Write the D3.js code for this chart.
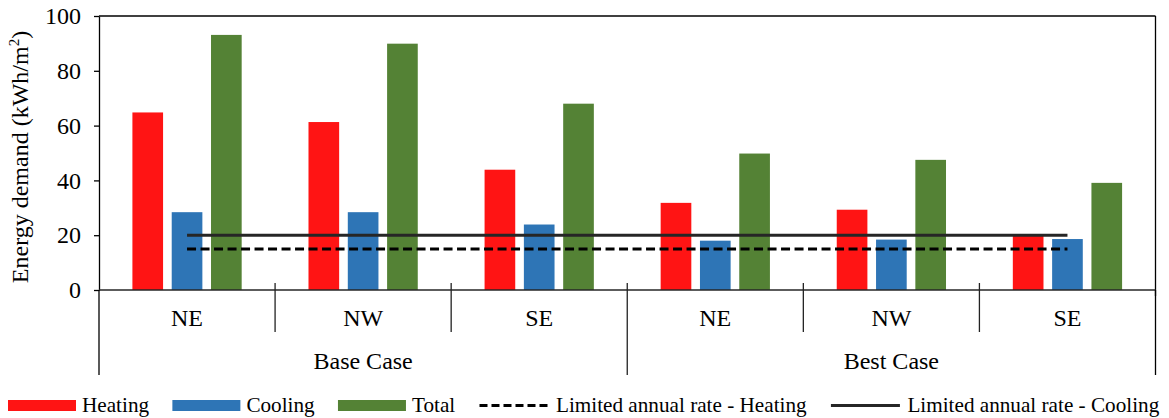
<!DOCTYPE html>
<html>
<head>
<meta charset="utf-8">
<script src="https://cdn.jsdelivr.net/npm/d3@7"></script>
<style>
  html, body { margin: 0; padding: 0; background: #fff; }
  svg { display: block; }
</style>
</head>
<body>
<svg id="chart" width="1169" height="418"></svg>
<script>
// ---- data ----
const regions = ["NE", "NW", "SE"];
const cases = ["Base Case", "Best Case"];
const seriesNames = ["Heating", "Cooling", "Total"];
const heating = [64.8, 61.3, 43.9, 31.8, 29.3, 20.1];
const cooling = [28.4, 28.4, 23.9, 18.0, 18.4, 18.6];
const total = [93.1, 89.9, 68.0, 49.8, 47.5, 39.1];
const limitHeating = [15, 15, 15, 15, 15, 15];
const limitCooling = [20, 20, 20, 20, 20, 20];
const yTicks = [0, 20, 40, 60, 80, 100];
const lineNames = ["Limited annual rate - Heating", "Limited annual rate - Cooling"];

const colors = { Heating: "#FF1414", Cooling: "#2E75B6", Total: "#548235" };
const seriesValues = { Heating: heating, Cooling: cooling, Total: total };
const FONT = '"Liberation Serif"';

const svg = d3.select("#chart");
const pLeft = 99, pRight = 1155.5, pTop = 16, pBottom = 290;

const groupKeys = d3.range(cases.length * regions.length);
const x0 = d3.scaleBand().domain(groupKeys).range([pLeft, pRight]).padding(0);
const x1 = d3.scaleBand().domain(seriesNames).range([0, x0.bandwidth()])
  .paddingInner(0.22).paddingOuter(0.85);
const y = d3.scaleLinear().domain([0, 100]).range([pBottom, pTop]);

function txt(sel, size) {
  return sel.style("font-family", FONT).style("font-size", size + "px").attr("fill", "#000");
}

// plot border (top, right)
svg.append("line").attr("x1", pLeft).attr("x2", pRight).attr("y1", pTop).attr("y2", pTop)
  .attr("stroke", "#000").attr("stroke-width", 1.3);
svg.append("line").attr("x1", pRight).attr("x2", pRight).attr("y1", pTop).attr("y2", pBottom + 6)
  .attr("stroke", "#000").attr("stroke-width", 1.3);

// bars
seriesNames.forEach(s => {
  svg.append("g").selectAll("rect").data(seriesValues[s]).join("rect")
    .attr("x", (d, i) => x0(i) + x1(s))
    .attr("width", x1.bandwidth())
    .attr("y", d => y(d))
    .attr("height", d => y(0) - y(d))
    .attr("fill", colors[s]);
});

// limit lines
const lineGen = d3.line()
  .x((d, i) => x0(i) + x1("Cooling") + x1.bandwidth() / 2)
  .y(d => y(d));
svg.append("path").datum(limitCooling).attr("d", lineGen)
  .attr("fill", "none").attr("stroke", "#262626").attr("stroke-width", 3);
svg.append("path").datum(limitHeating).attr("d", lineGen)
  .attr("fill", "none").attr("stroke", "#000").attr("stroke-width", 3)
  .attr("stroke-dasharray", "9,4.5");

// y axis
const yAxis = svg.append("g").attr("transform", `translate(${pLeft},0)`)
  .call(d3.axisLeft(y).tickValues(yTicks).tickSize(5).tickSizeOuter(0).tickPadding(13));
yAxis.attr("font-family", null).attr("font-size", null);
yAxis.select(".domain").attr("stroke", "#000").attr("stroke-width", 1.3);
yAxis.selectAll(".tick line").attr("stroke", "#000").attr("stroke-width", 1.3);
txt(yAxis.selectAll(".tick text"), 24);

// x axis line
svg.append("line").attr("x1", pLeft).attr("x2", pRight).attr("y1", pBottom).attr("y2", pBottom)
  .attr("stroke", "#262626").attr("stroke-width", 1.6);

// multi-level category separators
groupKeys.forEach(i => {
  if (i === 0) return;
  const outer = i % regions.length === 0;
  svg.append("line").attr("x1", x0(i)).attr("x2", x0(i))
    .attr("y1", 283).attr("y2", outer ? 375 : 332)
    .attr("stroke", "#222").attr("stroke-width", 1.3);
});
svg.append("line").attr("x1", pLeft).attr("x2", pLeft).attr("y1", pBottom).attr("y2", 375)
  .attr("stroke", "#000").attr("stroke-width", 1.3);
svg.append("line").attr("x1", pRight).attr("x2", pRight).attr("y1", pBottom).attr("y2", 375)
  .attr("stroke", "#000").attr("stroke-width", 1.3);

// region labels
txt(svg.append("g").selectAll("text").data(groupKeys).join("text")
  .attr("x", i => x0(i) + x0.bandwidth() / 2)
  .attr("y", 326)
  .attr("text-anchor", "middle")
  .text(i => regions[i % regions.length]), 24);

// case labels
txt(svg.append("g").selectAll("text").data(cases).join("text")
  .attr("x", (c, k) => (x0(k * regions.length) + x0((k + 1) * regions.length - 1) + x0.bandwidth()) / 2)
  .attr("y", 369)
  .attr("text-anchor", "middle")
  .text(c => c), 24);

// y axis title
const title = txt(svg.append("text")
  .attr("transform", `translate(28,${(pTop + pBottom) / 2 + 4}) rotate(-90)`)
  .attr("text-anchor", "middle"), 24);
title.append("tspan").text("Energy demand (kWh/m");
title.append("tspan").text("2").style("font-size", "15px").attr("dy", -9);
title.append("tspan").text(")").attr("dy", 9);

// legend
const legendItems = [
  { name: "Heating", type: "rect", color: colors.Heating },
  { name: "Cooling", type: "rect", color: colors.Cooling },
  { name: "Total", type: "rect", color: colors.Total },
  { name: lineNames[0], type: "dash", color: "#000" },
  { name: lineNames[1], type: "solid", color: "#262626" }
];
const legend = svg.append("g");
let lx = 8;
const ly = 405.5;
legendItems.forEach(it => {
  let symW, off;
  if (it.type === "rect") {
    symW = 68; off = 6;
    legend.append("rect").attr("x", lx).attr("y", ly - 5.5).attr("width", symW).attr("height", 11)
      .attr("fill", it.color);
  } else {
    symW = 70; off = 7.5;
    legend.append("line").attr("x1", lx + 1).attr("x2", lx + symW).attr("y1", ly).attr("y2", ly)
      .attr("stroke", it.color).attr("stroke-width", 3)
      .attr("stroke-dasharray", it.type === "dash" ? "8,4" : null);
  }
  const t = txt(legend.append("text").attr("x", lx + symW + off).attr("y", ly + 6.5), 21.2).text(it.name);
  lx = lx + symW + off + t.node().getComputedTextLength() + 23.3;
});
</script>
</body>
</html>
